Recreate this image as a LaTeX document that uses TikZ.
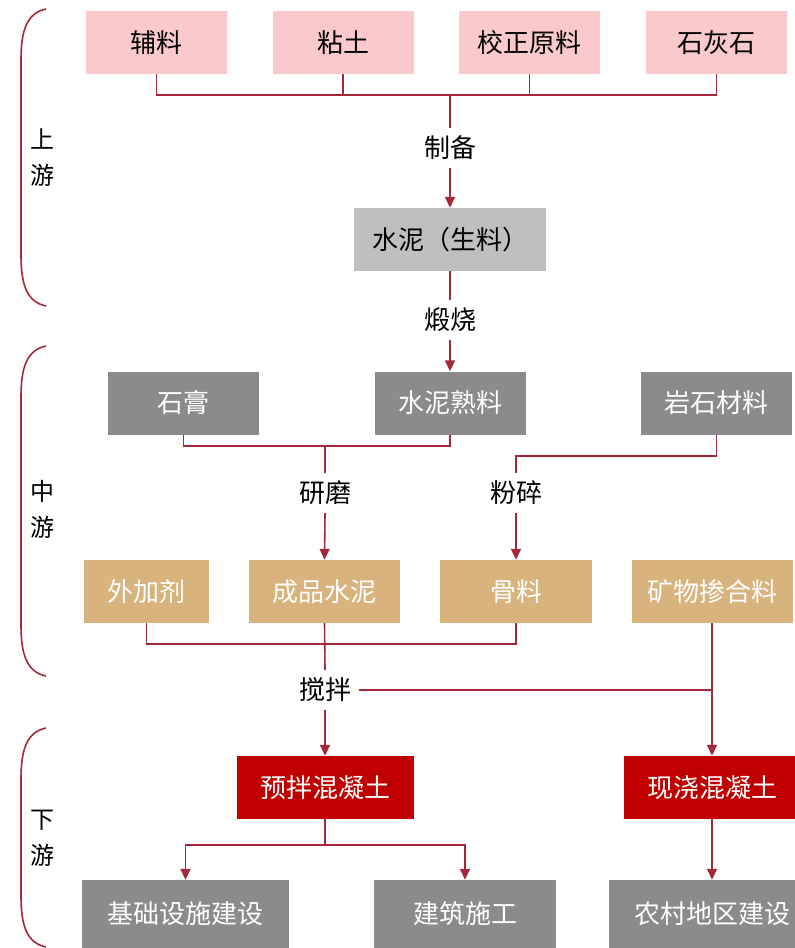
\documentclass[tikz,border=0pt]{standalone}
\usepackage{fontspec}
\setmainfont{Noto Sans CJK SC}
\usepackage{xcolor}
\usetikzlibrary{arrows.meta,positioning}
\definecolor{rawpink}{RGB}{249,201,203}
\definecolor{lgray}{RGB}{191,191,191}
\definecolor{dgray}{RGB}{137,139,141}
\definecolor{mtan}{RGB}{217,179,125}
\definecolor{cred}{RGB}{192,0,0}
\definecolor{lnred}{RGB}{165,40,58}

\begin{document}
\begin{tikzpicture}[
x=1pt,y=-1pt,
box/.style={inner sep=0pt,minimum height=63pt,font=\fontsize{26}{30}\selectfont},
rawbox/.style={box,fill=rawpink,minimum width=141pt},
lgbox/.style={box,fill=lgray},
dgbox/.style={box,fill=dgray,text=white,minimum width=151pt},
tanbox/.style={box,fill=mtan,text=white},
redbox/.style={box,fill=cred,text=white,minimum width=177pt},
usebox/.style={box,fill=dgray,text=white,minimum height=68pt},
lbl/.style={inner sep=8pt,font=\fontsize{26}{30}\selectfont},
stage/.style={align=center,inner sep=0pt,font=\fontsize{24}{36}\selectfont},
brace/.style={lnred,line width=1.6pt},
ln/.style={lnred,line width=1.6pt},
arr/.style={ln,-{Triangle[length=11pt,width=10pt]}}
]
\useasboundingbox (0,0) rectangle (795,948);
% stage braces
\draw[brace] (46,9) .. controls (27,13) and (21,30) .. (21,60) -- (21,255) .. controls (21,285) and (27,302) .. (46,306);
\draw[brace] (46,346) .. controls (27,350) and (21,367) .. (21,397) -- (21,625) .. controls (21,655) and (27,672) .. (46,676);
\draw[brace] (46,728) .. controls (27,732) and (21,749) .. (21,779) -- (21,896) .. controls (21,926) and (27,943) .. (46,947);
\node[stage] (up) at (42,158) {上\\游};
\node[stage] (mid) at (42,509) {中\\游};
\node[stage] (down) at (42,838) {下\\游};
% upstream
\node[rawbox] (fl) at (156.5,42.5) {辅料};
\node[rawbox] (nt) at (343,42.5) {粘土};
\node[rawbox] (jz) at (529.5,42.5) {校正原料};
\node[rawbox] (shs) at (716.5,42.5) {石灰石};
\coordinate (jraw) at (450,95);
\node[lbl] (zb) at (450,148) {制备};
\node[lgbox,minimum width=192pt] (sl) at (450,239.5) {水泥（生料）};
\node[lbl] (ds) at (450,320) {煅烧};
% midstream
\node[dgbox] (sg) at (183.5,403) {石膏};
\node[dgbox] (sls) at (450,403) {水泥熟料};
\node[dgbox] (ys) at (716.5,403) {岩石材料};
\coordinate (jgrind) at (325,446);
\coordinate (jcrush) at (516,456);
\node[lbl] (ym) at (325,493) {研磨};
\node[lbl] (fs) at (516,493) {粉碎};
\node[tanbox,minimum width=125pt] (wj) at (146.5,591.5) {外加剂};
\node[tanbox,minimum width=151pt] (cp) at (324.5,591.5) {成品水泥};
\node[tanbox,minimum width=152pt] (gl) at (516,591.5) {骨料};
\node[tanbox,minimum width=161pt] (kw) at (712,591.5) {矿物掺合料};
\coordinate (jmix) at (325,644);
\node[lbl] (jb) at (325,690) {搅拌};
% downstream
\node[redbox] (yb) at (325,787.5) {预拌混凝土};
\node[redbox] (xj) at (712,787.5) {现浇混凝土};
\coordinate (jpre) at (325,845);
\node[usebox,minimum width=207pt] (jc) at (185.5,914) {基础设施建设};
\node[usebox,minimum width=182pt] (jzsg) at (465,914) {建筑施工};
\node[usebox,minimum width=206pt] (nc) at (712,914) {农村地区建设};
% connectors
\draw[ln] (fl.south) |- (jraw) -| (shs.south);
\draw[ln] (nt.south) -- (nt.south |- jraw);
\draw[ln] (jz.south) -- (jz.south |- jraw);
\draw[ln] (jraw) -- (zb.north);
\draw[arr] (zb.south) -- (sl.north);
\draw[ln] (sl.south) -- (ds.north);
\draw[arr] (ds.south) -- (sls.north);
\draw[ln] (sg.south) |- (jgrind) -| (sls.south);
\draw[ln] (jgrind) -- (ym.north);
\draw[ln] (ys.south) |- (jcrush) -- (fs.north);
\draw[arr] (ym.south) -- (cp.north);
\draw[arr] (fs.south) -- (gl.north);
\draw[ln] (wj.south) |- (jmix) -| (gl.south);
\draw[ln] (cp.south) -- (jb.north);
\draw[ln] (jb.east) -- (jb.east -| kw.south);
\draw[arr] (kw.south) -- (xj.north);
\draw[arr] (jb.south) -- (yb.north);
\draw[ln] (yb.south) -- (jpre);
\draw[arr] (jpre) -| (jc.north);
\draw[arr] (jpre) -| (jzsg.north);
\draw[arr] (xj.south) -- (nc.north);
\end{tikzpicture}
\end{document}
